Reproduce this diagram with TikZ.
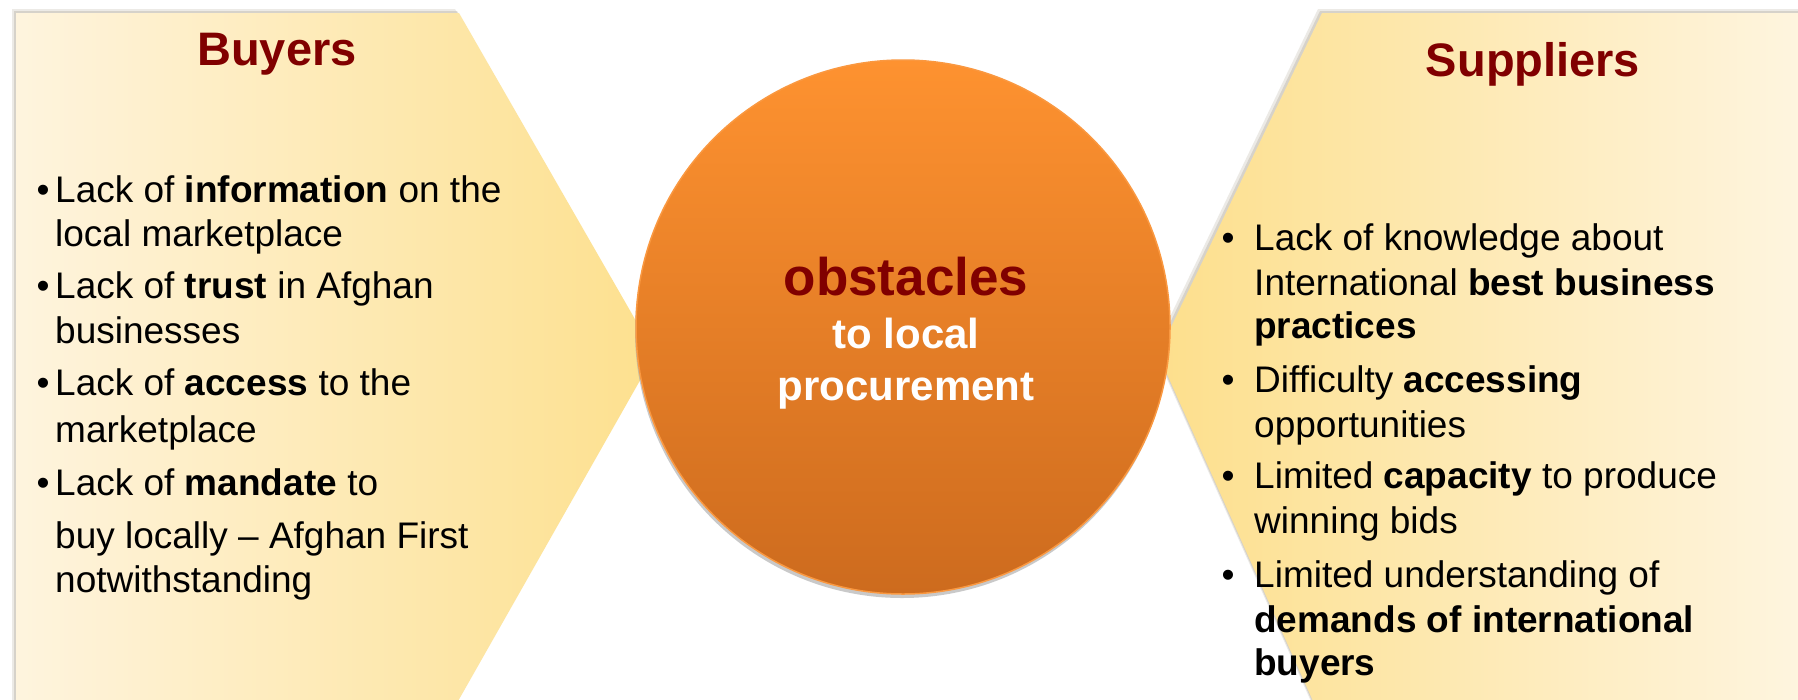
\documentclass[tikz,border=0pt]{standalone}
\usepackage{fontspec}
\setmainfont{Liberation Sans}
\definecolor{darkred}{RGB}{128,0,0}
\definecolor{paleL}{RGB}{254,244,222}
\definecolor{yelL}{RGB}{253,224,142}
\definecolor{paleR}{RGB}{254,245,224}
\definecolor{yelR}{RGB}{253,223,140}
\definecolor{orTop}{RGB}{254,146,48}
\definecolor{orBot}{RGB}{205,107,30}
\definecolor{orRim}{RGB}{250,152,64}
\definecolor{shadowcol}{RGB}{150,140,120}
\tikzset{
  txt/.style={anchor=base west, inner sep=0pt, font=\fontsize{37}{44}\selectfont},
  head/.style={anchor=base, inner sep=0pt, text=darkred, font=\fontsize{47}{56}\selectfont\bfseries},
  ctitle/.style={anchor=base, inner sep=0pt, text=darkred, font=\fontsize{53}{60}\selectfont\bfseries},
  csub/.style={anchor=base, inner sep=0pt, text=white, font=\fontsize{42}{50}\selectfont\bfseries},
  panelshadow/.style={fill=shadowcol},
}
\begin{document}
\begin{tikzpicture}[x=1pt,y=-1pt]
\useasboundingbox (0,0) rectangle (1798,699);
\fill[white] (0,0) rectangle (1798,699);
\clip (0,0) rectangle (1798,699);
% panel shadows
\begin{scope}[shift={(-4,-4)}]
  \fill[panelshadow, opacity=0.18] (16,13) -- (459,13) -- (655,354) -- (453,710) -- (16,710) -- cycle;
  \fill[panelshadow, opacity=0.18] (1322,13) -- (1810,13) -- (1810,710) -- (1317,710) -- (1158,354) -- cycle;
\end{scope}
\begin{scope}[shift={(-2,-2)}]
  \fill[panelshadow, opacity=0.25] (16,13) -- (459,13) -- (655,354) -- (453,710) -- (16,710) -- cycle;
  \fill[panelshadow, opacity=0.25] (1322,13) -- (1810,13) -- (1810,710) -- (1317,710) -- (1158,354) -- cycle;
\end{scope}
% panels
\shade[left color=paleL, right color=yelL] (16,13) -- (459,13) -- (655,354) -- (453,710) -- (16,710) -- cycle;
\shade[left color=yelR, right color=paleR] (1158,354) -- (1322,13) -- (1810,13) -- (1810,710) -- (1317,710) -- cycle;
% circle shadow and circle
\fill[gray!70, opacity=0.6] (902,331) circle (267);
\node[circle, minimum size=534pt, inner sep=0pt, draw=orRim, line width=1.5pt,
      top color=orTop, bottom color=orBot] (c) at (903,327) {};
% headers
\node[head] (buyers) at (277,65) {Buyers};
\node[head] (suppliers) at (1533,76) {Suppliers};
% centre text
\node[ctitle] (obs) at (906,295) {obstacles};
\node[csub] (tl) at (906,348) {to local};
\node[csub] (pr) at (906,400) {procurement};
% left bullets
\node[txt] (lb1) at (36.5,202) {•};
\node[txt] (lb2) at (36.5,298) {•};
\node[txt] (lb3) at (36.5,395) {•};
\node[txt] (lb4) at (36.5,495) {•};
\node[txt] (l1) at (55,202) {Lack of \textbf{information} on the};
\node[txt] (l2) at (55,246) {local marketplace};
\node[txt] (l3) at (55,298) {Lack of \textbf{trust} in Afghan};
\node[txt] (l4) at (55,343) {businesses};
\node[txt] (l5) at (55,395) {Lack of \textbf{access} to the};
\node[txt] (l6) at (55,442) {marketplace};
\node[txt] (l7) at (55,495) {Lack of \textbf{mandate} to};
\node[txt] (l8) at (55,548) {buy locally – Afghan First};
\node[txt] (l9) at (55,592) {notwithstanding};
% right bullets
\node[txt] (rb1) at (1221.5,250) {•};
\node[txt] (rb2) at (1221.5,392) {•};
\node[txt] (rb3) at (1221.5,488) {•};
\node[txt] (rb4) at (1221.5,587) {•};
\node[txt] (r1) at (1254,250) {Lack of knowledge about};
\node[txt] (r2) at (1254,295) {International \textbf{best business}};
\node[txt] (r3) at (1254,338) {\textbf{practices}};
\node[txt] (r4) at (1254,392) {Difficulty \textbf{accessing}};
\node[txt] (r5) at (1254,437) {opportunities};
\node[txt] (r6) at (1254,488) {Limited \textbf{capacity} to produce};
\node[txt] (r7) at (1254,533) {winning bids};
\node[txt] (r8) at (1254,587) {Limited understanding of};
\node[txt] (r9) at (1254,632) {\textbf{demands of international}};
\node[txt] (r10) at (1254,675) {\textbf{buyers}};
\end{tikzpicture}
\end{document}
